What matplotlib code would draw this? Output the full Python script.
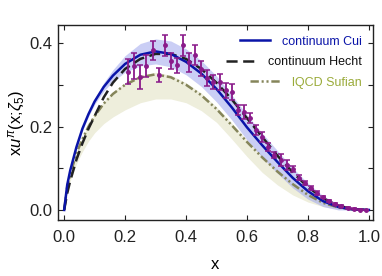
import matplotlib
matplotlib.use("Agg")
import matplotlib.pyplot as plt

plt.rcParams['font.family'] = ['Liberation Sans', 'DejaVu Sans']
plt.rcParams['mathtext.fontset'] = 'custom'
plt.rcParams['mathtext.rm'] = 'Liberation Sans'
plt.rcParams['mathtext.it'] = 'Liberation Sans:italic'
plt.rcParams['lines.scale_dashes'] = False

# ---- curves ----
xg = [0, 0.01, 0.02, 0.04, 0.06, 0.08, 0.1, 0.13, 0.16, 0.2, 0.25, 0.3, 0.35,
      0.4, 0.45, 0.5, 0.55, 0.6, 0.65, 0.7, 0.75, 0.8, 0.85, 0.9, 0.95, 1.0]
cui = [0, 0.06, 0.095, 0.15, 0.195, 0.23, 0.26, 0.295, 0.322, 0.35, 0.372, 0.38, 0.374,
       0.355, 0.327, 0.29, 0.246, 0.198, 0.155, 0.115, 0.077, 0.045, 0.021, 0.007, 0.001, 0]
cui_lo = [0, 0.058, 0.092, 0.146, 0.19, 0.224, 0.253, 0.285, 0.308, 0.33, 0.345, 0.35, 0.343,
          0.324, 0.296, 0.259, 0.216, 0.168, 0.126, 0.088, 0.053, 0.026, 0.008, 0.0, 0.0, 0]
cui_hi = [0, 0.062, 0.098, 0.154, 0.2, 0.236, 0.267, 0.305, 0.336, 0.37, 0.399, 0.41, 0.405,
          0.386, 0.358, 0.321, 0.276, 0.228, 0.184, 0.142, 0.101, 0.064, 0.034, 0.014, 0.003, 0]
hecht = [0, 0.04, 0.07, 0.12, 0.16, 0.195, 0.225, 0.27, 0.305, 0.338, 0.362, 0.374, 0.374,
         0.362, 0.338, 0.305, 0.265, 0.22, 0.175, 0.13, 0.09, 0.055, 0.028, 0.01, 0.002, 0]
sufian = [0, 0.055, 0.085, 0.135, 0.17, 0.2, 0.225, 0.255, 0.278, 0.3, 0.318, 0.325, 0.318,
          0.3, 0.275, 0.242, 0.203, 0.163, 0.126, 0.092, 0.062, 0.036, 0.017, 0.006, 0.001, 0]
sufian_lo = [0, 0.04, 0.07, 0.11, 0.14, 0.165, 0.185, 0.207, 0.223, 0.24, 0.257, 0.266, 0.266,
             0.257, 0.238, 0.21, 0.17, 0.128, 0.09, 0.06, 0.036, 0.019, 0.008, 0.002, 0, 0]
sufian_hi = [0, 0.058, 0.089, 0.14, 0.175, 0.205, 0.23, 0.26, 0.283, 0.305, 0.323, 0.33, 0.323,
             0.305, 0.28, 0.247, 0.208, 0.168, 0.131, 0.097, 0.066, 0.039, 0.019, 0.007, 0.001, 0]

# ---- lattice data points ----
px = [0.21, 0.23, 0.25, 0.27, 0.29, 0.31, 0.33, 0.35, 0.37, 0.39,
      0.41, 0.43, 0.45, 0.47, 0.49, 0.51, 0.53, 0.55, 0.57, 0.59,
      0.61, 0.63, 0.65, 0.67, 0.69, 0.71, 0.73, 0.75, 0.77, 0.79,
      0.81, 0.83, 0.85, 0.87, 0.89, 0.91, 0.93, 0.95, 0.97, 0.99]
py = [0.331, 0.345, 0.319, 0.345, 0.383, 0.323, 0.395, 0.357, 0.347, 0.395,
      0.354, 0.371, 0.338, 0.316, 0.307, 0.307, 0.287, 0.283, 0.240, 0.235,
      0.220, 0.192, 0.175, 0.151, 0.132, 0.120, 0.108, 0.098, 0.077, 0.065,
      0.053, 0.041, 0.031, 0.022, 0.014, 0.010, 0.005, 0.003, 0.001, 0.0]
perr = [0.030, 0.030, 0.029, 0.026, 0.023, 0.017, 0.025, 0.018, 0.018, 0.025,
        0.023, 0.024, 0.018, 0.020, 0.016, 0.020, 0.018, 0.020, 0.012, 0.016,
        0.012, 0.012, 0.012, 0.010, 0.008, 0.014, 0.012, 0.008, 0.006, 0.005,
        0.004, 0.004, 0.003, 0.003, 0.002, 0.002, 0.002, 0.001, 0.001, 0.001]

xticks = [0.0, 0.2, 0.4, 0.6, 0.8, 1.0]
xticklabels = ['0.0', '0.2', '0.4', '0.6', '0.8', '1.0']
yticks = [0.0, 0.1, 0.2, 0.3, 0.4]
yticklabels = ['0.0', '', '0.2', '', '0.4']
labels = ['continuum Cui', 'continuum Hecht', 'lQCD Sufian']

BLUE = '#0a14a8'
OLIVE = '#85855a'
PURPLE = '#8a1a8a'

fig = plt.figure(figsize=(3.82, 2.76), dpi=100)
ax = fig.add_axes([0.152, 0.203, 0.824, 0.706])

ax.fill_between(xg, sufian_lo, sufian_hi, color='#eeeedc', lw=0, zorder=1)
ax.fill_between(xg, cui_lo, cui_hi, color='#9fa6ee', alpha=0.55, lw=0, zorder=2)
l3, = ax.plot(xg, sufian, color=OLIVE, lw=1.8, dashes=(6, 2, 1.5, 2, 1.5, 2), zorder=3)
l2, = ax.plot(xg, hecht, color='#222222', lw=1.8, dashes=(8, 4), zorder=4)
l1, = ax.plot(xg, cui, color=BLUE, lw=1.8, zorder=5)
ax.errorbar(px, py, yerr=perr, fmt='o', color=PURPLE, ms=2.5, elinewidth=1.3,
            capsize=2.3, capthick=1.1, zorder=6)

ax.set_xlim(-0.02, 1.013)
ax.set_ylim(-0.024, 0.443)
ax.set_xticks(xticks)
ax.set_xticklabels(xticklabels)
ax.set_yticks(yticks)
ax.set_yticklabels(yticklabels)
ax.tick_params(direction='in', length=3.5, width=0.8, top=True, right=True,
               labelsize=12, colors='#222222', pad=4)
ax.tick_params(axis='x', pad=7)
for s in ax.spines.values():
    s.set_color('#222222')
    s.set_linewidth(1.0)

ax.set_xlabel('x', fontsize=12, labelpad=9)
ax.set_ylabel(r'x$u^{\pi}$(x;$\zeta_5$)', fontsize=12, labelpad=2)

leg = ax.legend([l1, l2, l3], labels, loc='upper right', frameon=False, fontsize=9,
                handlelength=2.4, handletextpad=1.0, labelspacing=0.68,
                borderaxespad=0.3, borderpad=0.55)
for col in leg._legend_handle_box.get_children():
    col.align = 'right'
for t, c in zip(leg.get_texts(), [BLUE, '#111111', '#9aab3a']):
    t.set_color(c)

fig.savefig('out.png', dpi=100)
